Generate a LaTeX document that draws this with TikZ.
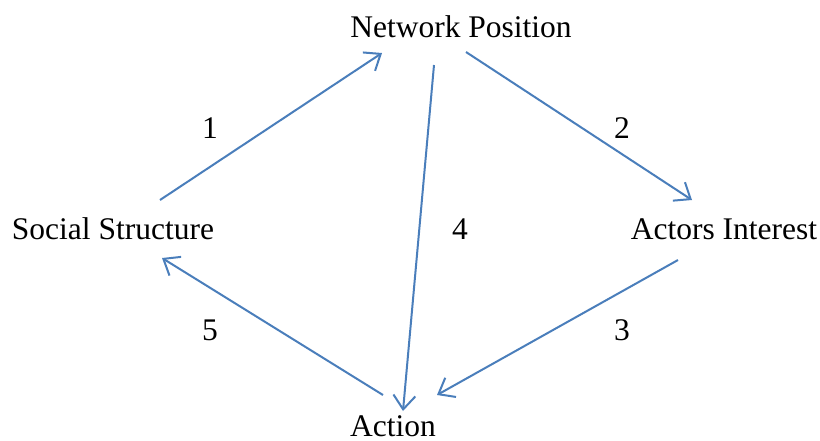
\documentclass[tikz,border=0pt]{standalone}
\usepackage{fontspec}
\setmainfont{Liberation Serif}
\usetikzlibrary{arrows.meta}
\definecolor{linkblue}{HTML}{4A7EBB}
\begin{document}
\begin{tikzpicture}[x=1pt,y=-1pt,
  lbl/.style={inner sep=0pt,font=\fontsize{31.5}{34}\selectfont},
  link/.style={draw=linkblue,line width=2pt,-{Straight Barb[length=14pt,width=22pt,line width=2pt]}}]
\useasboundingbox (0,0) rectangle (820,440);
\node[lbl] (np) at (461,27) {Network Position};
\node[lbl] (ss) at (113,229) {Social Structure};
\node[lbl] (ai) at (724,229) {Actors Interest};
\node[lbl] (ac) at (393,426) {Action};
\coordinate (s1) at (160,200); \coordinate (e1) at (382,53);
\coordinate (s2) at (466,52); \coordinate (e2) at (692,200);
\coordinate (s4) at (434,65); \coordinate (e4) at (403,411);
\coordinate (s3) at (678,260); \coordinate (e3) at (437,395);
\coordinate (s5) at (383,395); \coordinate (e5) at (162,258);
\draw[link] (s1) -- (e1);
\draw[link] (s2) -- (e2);
\draw[link] (s4) -- (e4);
\draw[link] (s3) -- (e3);
\draw[link] (s5) -- (e5);
\node[lbl] (n1) at (210,128) {1};
\node[lbl] (n2) at (622,128) {2};
\node[lbl] (n4) at (460,229) {4};
\node[lbl] (n3) at (622,330) {3};
\node[lbl] (n5) at (210,330) {5};
\end{tikzpicture}
\end{document}
